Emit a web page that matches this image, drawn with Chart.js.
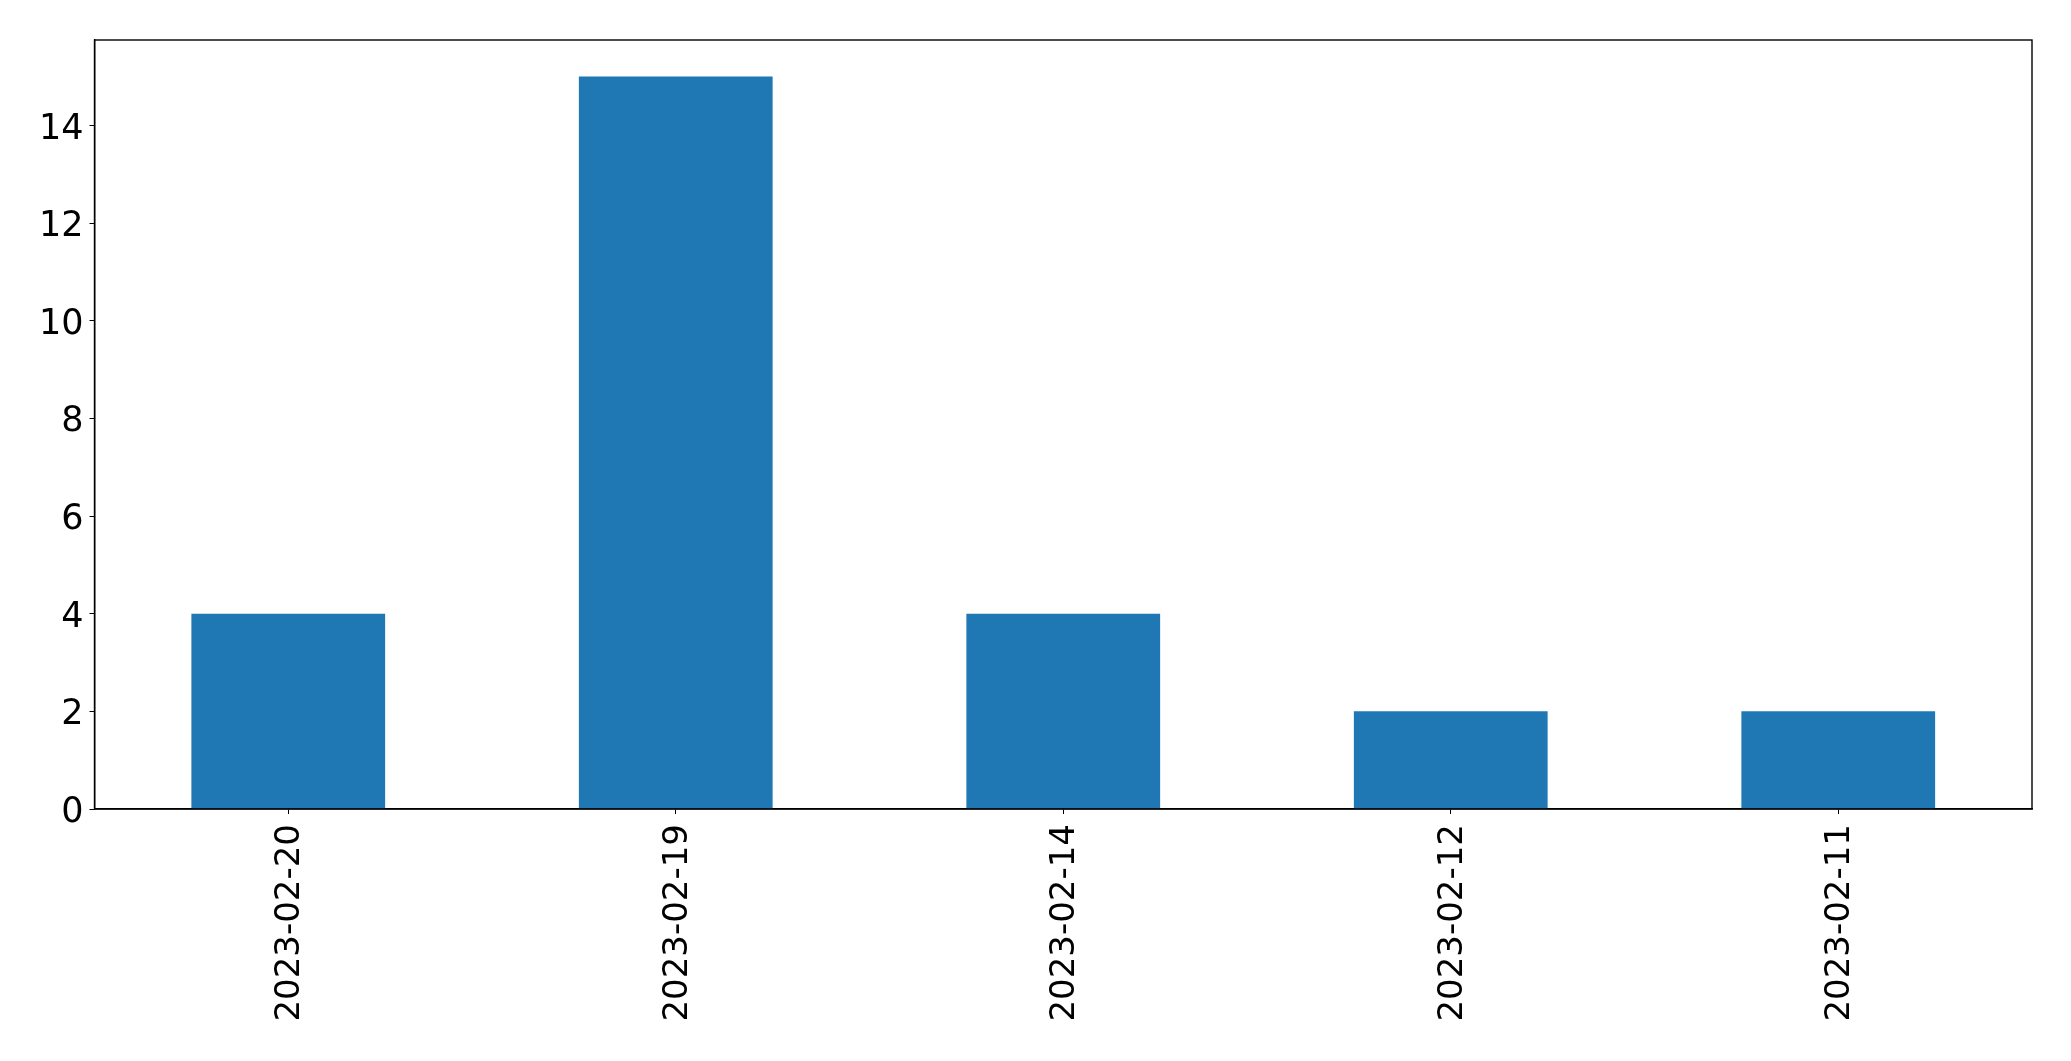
<!DOCTYPE html>
<html>
<head>
<meta charset="utf-8">
<script src="https://cdn.jsdelivr.net/npm/chart.js@4/dist/chart.umd.min.js"></script>
<style>
html,body{margin:0;padding:0;background:#fff;}
#wrap{width:2071px;height:1061px;position:relative;}
</style>
</head>
<body>
<div id="wrap"><canvas id="c" width="2071" height="1061"></canvas></div>
<script>
const categories = ["2023-02-20", "2023-02-19", "2023-02-14", "2023-02-12", "2023-02-11"];
const counts = [4, 15, 4, 2, 2];
const yTicks = [0, 2, 4, 6, 8, 10, 12, 14];

const frame = {
  id: 'frame',
  afterDraw(chart) {
    const a = chart.chartArea, ctx = chart.ctx;
    ctx.save();
    ctx.strokeStyle = '#000';
    ctx.lineWidth = 1.4;
    ctx.strokeRect(a.left, a.top, a.right - a.left, a.bottom - a.top);
    ctx.restore();
  }
};

new Chart(document.getElementById('c'), {
  type: 'bar',
  data: {
    labels: categories,
    datasets: [{
      data: counts,
      backgroundColor: '#1f77b4',
      borderWidth: 0,
      categoryPercentage: 1.0,
      barPercentage: 0.5
    }]
  },
  options: {
    responsive: false,
    animation: false,
    devicePixelRatio: 1,
    layout: { padding: { top: 40, right: 39, left: 0, bottom: 0 } },
    plugins: { legend: { display: false }, tooltip: { enabled: false } },
    scales: {
      x: {
        type: 'category',
        offset: true,
        grid: { display: true, drawOnChartArea: false, drawTicks: true, tickLength: 5, color: '#000', offset: false },
        border: { display: true, color: '#000', width: 1.4 },
        ticks: {
          color: '#000',
          font: { family: 'DejaVu Sans', size: 34 },
          maxRotation: 90, minRotation: 90,
          padding: 10,
          labelOffset: 2,
          autoSkip: false
        },
        afterFit(s) { s.height = 1061 - 809; }
      },
      y: {
        min: 0, max: 15.75,
        afterBuildTicks(s) { s.ticks = yTicks.map(v => ({ value: v })); },
        grid: { display: true, drawOnChartArea: false, drawTicks: true, tickLength: 5, color: '#000' },
        border: { display: true, color: '#000', width: 1.4 },
        ticks: {
          color: '#000',
          font: { family: 'DejaVu Sans', size: 35 },
          padding: 6,
          labelOffset: 4
        },
        afterFit(s) { s.width = 94.5; }
      }
    }
  },
  plugins: [frame]
});
</script>
</body>
</html>
